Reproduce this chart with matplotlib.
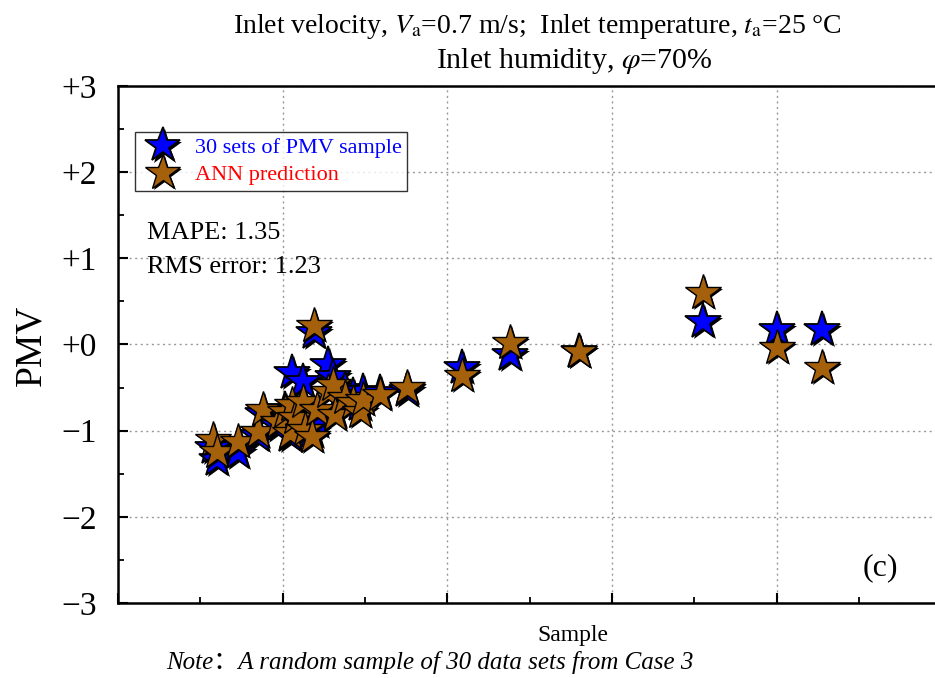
import numpy as np
import matplotlib
matplotlib.use("Agg")
import matplotlib.pyplot as plt
from matplotlib import patheffects as pe
from matplotlib.ticker import MultipleLocator, FixedLocator

plt.rcParams['font.family'] = ['Liberation Serif', 'Noto Sans CJK SC', 'DejaVu Sans']
plt.rcParams['mathtext.fontset'] = 'stix'
plt.rcParams['axes.unicode_minus'] = True

# sample index position (arbitrary units along the axis) and PMV values
sample_x = [0.577, 0.601, 0.729, 0.850, 0.880, 0.972, 1.014, 1.044, 1.056, 1.075,
            1.123, 1.135, 1.178, 1.190, 1.208, 1.275, 1.305, 1.318, 1.378, 1.427,
            1.469, 1.488, 1.591, 1.755, 2.089, 2.380, 2.799, 3.552, 4.001, 4.274]
pmv_sample = [-1.195, -1.334, -1.253, -1.056, -0.800, -0.940, -0.754, -1.056, -0.325, -0.800,
              -0.429, -0.963, -1.009, 0.139, -0.893, -0.232, -0.371, -0.777, -0.522, -0.592,
              -0.696, -0.545, -0.557, -0.534, -0.267, -0.116, -0.081, 0.267, 0.174, 0.174]
pmv_ann = [-1.102, -1.241, -1.125, -1.009, -0.754, -0.893, -0.777, -1.021, -0.696, -0.847,
           -0.661, -0.986, -1.067, 0.220, -0.754, -0.545, -0.464, -0.812, -0.615, -0.673,
           -0.777, -0.638, -0.580, -0.499, -0.360, 0.023, -0.081, 0.603, -0.035, -0.267]

yticks = [-3, -2, -1, 0, 1, 2, 3]
ytick_labels = ['\u22123', '\u22122', '\u22121', '+0', '+1', '+2', '+3']

blue = '#0000FF'
brown = '#A5600C'

fig = plt.figure(figsize=(9.35, 6.78), dpi=100)
ax = fig.add_axes([0.1262, 0.1106, 0.8984, 0.7626])

shadow = [pe.SimplePatchShadow(offset=(1.5, -1.5), shadow_rgbFace='black', alpha=1.0), pe.Normal()]

ax.plot(sample_x, pmv_sample, ls='none', marker='*', ms=27, mfc=blue, mec='black', mew=1.3,
        path_effects=shadow, label='30 sets of PMV sample', zorder=3)
ax.plot(sample_x, pmv_ann, ls='none', marker='*', ms=27, mfc=brown, mec='black', mew=1.0,
        path_effects=shadow, label='ANN prediction', zorder=4)

ax.set_xlim(0, 5.1)
ax.set_ylim(-3, 3)
ax.xaxis.set_major_locator(MultipleLocator(1))
ax.xaxis.set_minor_locator(MultipleLocator(0.5))
ax.yaxis.set_major_locator(FixedLocator(yticks))
ax.yaxis.set_minor_locator(MultipleLocator(0.5))
ax.set_yticklabels(ytick_labels, fontsize=24)
ax.set_xticklabels([])
ax.tick_params(which='major', direction='in', length=7, width=1.5, top=False, right=False)
ax.tick_params(which='minor', direction='in', length=4, width=1.3, top=False, right=False)
ax.tick_params(axis='y', pad=15)
ax.grid(True, which='major', color='#999999', linestyle=(0, (1.5, 2.5)), linewidth=1.0)
ax.set_axisbelow(True)
for side in ['left', 'bottom', 'top']:
    ax.spines[side].set_linewidth(1.8)
ax.spines['right'].set_visible(False)

leg = ax.legend(loc='upper left', bbox_to_anchor=(0.020, 0.911), fontsize=16, frameon=True,
                fancybox=False, edgecolor='black', borderpad=0.25, handletextpad=0.45,
                labelspacing=0.3, handlelength=2.0, borderaxespad=0)
leg.get_frame().set_linewidth(1.0)
leg.get_texts()[0].set_color(blue)
leg.get_texts()[1].set_color('red')

ax.text(0.0345, 0.716, 'MAPE: 1.35', transform=ax.transAxes, fontsize=19, va='center', ha='left')
ax.text(0.0345, 0.650, 'RMS error: 1.23', transform=ax.transAxes, fontsize=19, va='center', ha='left')
ax.text(0.908, 0.068, '(c)', transform=ax.transAxes, fontsize=23, va='center', ha='center')

fig.text(0.575, 0.961, r'Inlet velocity, $V_\mathrm{a}$=0.7 m/s;  Inlet temperature, $t_\mathrm{a}$=25 °C',
         fontsize=20, ha='center', va='center')
fig.text(574 / 935, 0.9095, r'Inlet humidity, $\varphi$=70%', fontsize=21.5, ha='center', va='center')
fig.text(31 / 935, 1 - 345 / 678, 'PMV', rotation=90, fontsize=27, ha='center', va='center')
fig.text(573 / 935, 1 - 635 / 678, 'Sample', fontsize=17, ha='center', va='center')
fig.text(430 / 935, 1 - 662 / 678, 'Note\uff1aA random sample of 30 data sets from Case 3',
         fontsize=18, style='italic', ha='center', va='center')

fig.savefig('out.png', dpi=100)
